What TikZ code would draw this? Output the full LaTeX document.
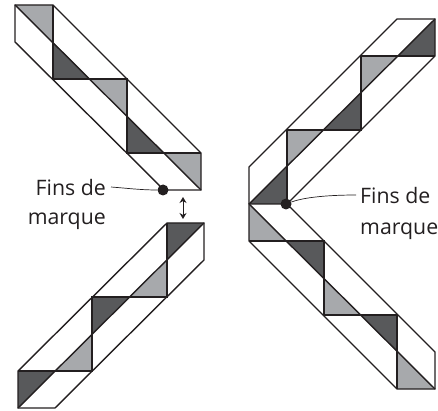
\documentclass[tikz,border=0pt]{standalone}
\usepackage{fontspec}
\setmainfont{Open Sans}
\usetikzlibrary{arrows.meta}
\definecolor{ribbondark}{HTML}{58595B}
\definecolor{ribbonlight}{HTML}{A7A9AC}
\definecolor{ribbonline}{HTML}{231F20}
\begin{document}
\begin{tikzpicture}[
  x=1pt, y=-1pt,
  every node/.style={font=\fontsize{21.3}{26}\selectfont, text=ribbonline, inner sep=0pt},
  edge/.style={draw=ribbonline, line width=1.4pt, line join=miter},
  dark/.style={fill=ribbondark},
  light/.style={fill=ribbonlight},
  enddot/.style={circle, fill=ribbonline, minimum size=11pt},
  leader/.style={draw=ribbonline, line width=0.7pt},
]
\useasboundingbox (0, 0) rectangle (438, 411);

% Top left ribbon
\fill[light] (15, 5) -- (53, 5) -- (53, 42) -- cycle;
\fill[dark] (53, 42) -- (53, 79) -- (90, 79) -- cycle;
\fill[light] (90, 79) -- (127, 79) -- (127, 116) -- cycle;
\fill[dark] (127, 116) -- (127, 153) -- (164, 153) -- cycle;
\fill[light] (164, 153) -- (201, 153) -- (201, 190) -- cycle;
\draw[edge] (15, 42) -- (15, 5) -- (53, 5) -- (201, 153) -- (201, 190) -- (164, 190) -- cycle;
\draw[edge] (15, 5) -- (201, 190);
\draw[edge] (53, 5) -- (53, 79) -- (127, 79) -- (127, 153) -- (201, 153);

% Bottom left ribbon
\fill[dark] (18, 371) -- (55, 371) -- (18, 408) -- cycle;
\fill[light] (55, 371) -- (92, 371) -- (92, 334) -- cycle;
\fill[dark] (92, 297) -- (129, 297) -- (92, 334) -- cycle;
\fill[light] (129, 297) -- (167, 297) -- (167, 260) -- cycle;
\fill[dark] (167, 223) -- (204, 223) -- (167, 260) -- cycle;
\draw[edge] (18, 371) -- (167, 223) -- (204, 223) -- (204, 260) -- (55, 408) -- (18, 408) -- cycle;
\draw[edge] (18, 408) -- (204, 223);
\draw[edge] (18, 371) -- (92, 371) -- (92, 297) -- (167, 297) -- (167, 223);

% Top right ribbon
\fill[dark] (435, 19) -- (435, 56) -- (398, 56) -- cycle;
\fill[light] (361, 56) -- (398, 56) -- (361, 93) -- cycle;
\fill[dark] (361, 93) -- (361, 130) -- (324, 130) -- cycle;
\fill[light] (287, 130) -- (324, 130) -- (287, 167) -- cycle;
\fill[dark] (287, 167) -- (287, 204) -- (249, 204) -- cycle;
\draw[edge] (249, 204) -- (249, 167) -- (397, 19) -- (435, 19) -- (435, 56) -- (287, 204);
\draw[edge] (249, 204) -- (435, 19);
\draw[edge] (435, 56) -- (361, 56) -- (361, 130) -- (287, 130) -- (287, 204);

% Bottom right ribbon
\fill[light] (249, 204) -- (249, 241) -- (286, 241) -- cycle;
\fill[dark] (286, 241) -- (324, 241) -- (324, 278) -- cycle;
\fill[light] (324, 278) -- (324, 315) -- (361, 315) -- cycle;
\fill[dark] (361, 315) -- (397, 315) -- (397, 352) -- cycle;
\fill[light] (397, 352) -- (397, 389) -- (435, 389) -- cycle;
\draw[edge] (249, 204) -- (249, 241) -- (397, 389) -- (435, 389) -- (435, 352) -- (287, 204) -- cycle;
\draw[edge] (249, 204) -- (435, 389);
\draw[edge] (249, 241) -- (324, 241) -- (324, 315) -- (397, 315) -- (397, 389);

% End dots
\node[enddot] (dotleft) at (163, 190) {};
\node[enddot] (dotright) at (286, 204) {};

% Labels
\node[anchor=base east] (finsleft) at (106, 196) {Fins de};
\node[anchor=base east] (marqueleft) at (106, 225) {marque};
\node[anchor=base west] (finsright) at (360, 204) {Fins de};
\node[anchor=base west] (marqueright) at (360, 235) {marque};

% Leaders
\draw[leader] ([xshift=5pt, yshift=1pt]finsleft.east) .. controls (125, 188) and (140, 190) .. (dotleft);
\draw[leader] (dotright) .. controls (305, 197) and (330, 195) .. ([xshift=-4pt, yshift=1pt]finsright.west);

% Gap arrow
\coordinate (gaptop) at (183, 197);
\coordinate (gapbottom) at (183, 219);
\draw[{Stealth[length=6pt, width=7pt]}-{Stealth[length=6pt, width=7pt]}, draw=ribbonline, line width=1pt] (gaptop) -- (gapbottom);
\end{tikzpicture}
\end{document}
